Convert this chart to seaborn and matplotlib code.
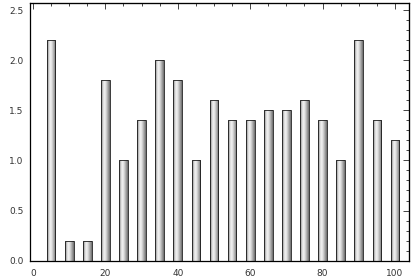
import numpy as np
import matplotlib
matplotlib.use("Agg")
import matplotlib.pyplot as plt
from matplotlib.ticker import MultipleLocator, FormatStrFormatter
import seaborn as sns

# --- data ---
positions = [5, 10, 15, 20, 25, 30, 35, 40, 45, 50, 55, 60, 65, 70, 75, 80, 85, 90, 95, 100]
values = [2.2, 0.2, 0.2, 1.8, 1.0, 1.4, 2.0, 1.8, 1.0, 1.6, 1.4, 1.4, 1.5, 1.5, 1.6, 1.4, 1.0, 2.2, 1.4, 1.2]

sns.set_style("white")
plt.rcParams["font.family"] = ["DejaVu Sans"]

fig = plt.figure(figsize=(4.17, 2.77), dpi=100)
ax = fig.add_axes([0.073, 0.059, 0.908, 0.930])

sns.barplot(x=positions, y=values, native_scale=True, width=0.48,
            color="0.7", edgecolor="0.1", linewidth=0.6, ax=ax)

# cylindrical gray shading for each bar
prof = np.array([0.5, 0.65, 0.82, 0.94, 0.93, 0.86, 0.76, 0.65, 0.55, 0.42])
grad = np.interp(np.linspace(0, 1, 64), np.linspace(0, 1, len(prof)), prof)[None, :]
for p in list(ax.patches):
    x0, y0 = p.get_x(), p.get_y()
    w, h = p.get_width(), p.get_height()
    im = ax.imshow(grad, cmap="gray", vmin=0, vmax=1, aspect="auto",
                   extent=[x0, x0 + w, y0, y0 + h], zorder=p.get_zorder() + 0.1,
                   interpolation="bilinear")
    im.set_clip_path(p)
    p.set_facecolor("none")
    p.set_zorder(p.get_zorder() + 0.2)

ax.set_xlim(-0.7, 103.9)
ax.set_ylim(0, 2.57)
ax.set_aspect("auto")

ax.xaxis.set_major_locator(MultipleLocator(20))
ax.xaxis.set_minor_locator(MultipleLocator(5))
ax.yaxis.set_major_locator(MultipleLocator(0.5))
ax.yaxis.set_minor_locator(MultipleLocator(0.1))
ax.yaxis.set_major_formatter(FormatStrFormatter("%.1f"))

ax.tick_params(which="major", direction="inout", length=6, width=0.8,
               labelsize=6.5, labelcolor="#333333", pad=2)
ax.tick_params(which="minor", direction="in", length=3, width=0.6)
ax.tick_params(axis="x", which="major", pad=3)

# inward ticks on the top and right frame, no labels
top = ax.secondary_xaxis("top")
top.xaxis.set_major_locator(MultipleLocator(20))
top.xaxis.set_minor_locator(MultipleLocator(5))
top.tick_params(which="both", direction="in", labeltop=False, width=0.6)
top.tick_params(which="major", length=4)
top.tick_params(which="minor", length=2.5)
right = ax.secondary_yaxis("right")
right.yaxis.set_major_locator(MultipleLocator(0.5))
right.yaxis.set_minor_locator(MultipleLocator(0.1))
right.tick_params(which="both", direction="in", labelright=False, width=0.6)
right.tick_params(which="major", length=4)
right.tick_params(which="minor", length=2.5)

for s in ax.spines.values():
    s.set_linewidth(0.9)
    s.set_color("black")

ax.set_xlabel("")
ax.set_ylabel("")

fig.savefig("out.png", dpi=100)
